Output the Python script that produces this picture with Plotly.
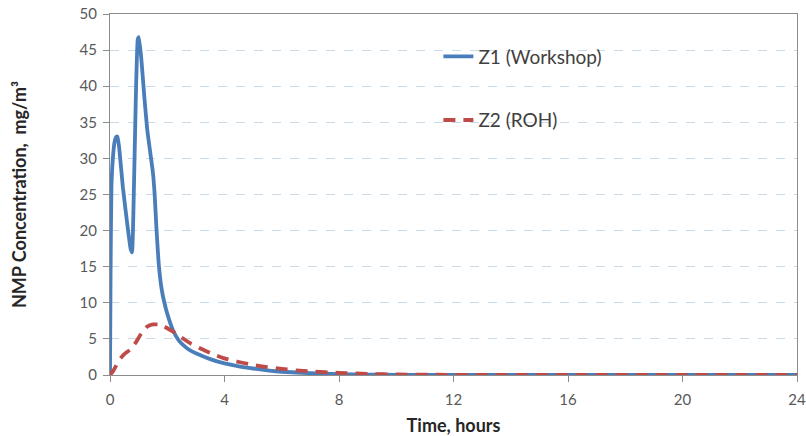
import plotly.graph_objects as go

# Z1 (Workshop)
t_z1 = [0, 0.02, 0.05, 0.1, 0.16, 0.22, 0.26, 0.32, 0.45, 0.6, 0.72, 0.77, 0.82, 0.9, 0.97, 1.01, 1.1, 1.2, 1.3,
        1.4, 1.5, 1.56, 1.62, 1.7, 1.8, 1.9, 2.0, 2.2, 2.4, 2.6, 2.8, 3.0, 3.5, 4, 4.5, 5, 5.5, 6, 7, 8,
        9, 10, 12, 16, 20, 24]
v_z1 = [0, 14, 26, 30, 32.3, 33, 33, 31.5, 26, 21, 17.5, 17, 23, 38, 46.5, 46.8, 43.5, 38.5, 34,
        31, 28, 25, 20.5, 15.5, 12, 10, 8.5, 6.2, 4.8, 4.0, 3.4, 3.0, 2.2, 1.6, 1.2, 0.9, 0.65, 0.45, 0.25, 0.12,
        0.06, 0.03, 0.01, 0, 0, 0]

# Z2 (ROH)
t_z2 = [0, 0.1, 0.2, 0.3, 0.5, 0.7, 0.9, 1.1, 1.3, 1.5, 1.7, 1.9, 2.2, 2.5, 2.8, 3.2, 3.6, 4, 4.5, 5,
        5.5, 6, 6.5, 7, 8, 9, 10, 12, 16, 20, 24]
v_z2 = [0, 0.5, 1.2, 2.0, 2.9, 3.5, 4.5, 5.8, 6.7, 7.0, 7.0, 6.7, 6.0, 5.2, 4.4, 3.6, 2.9, 2.3, 1.8, 1.4,
        1.1, 0.85, 0.65, 0.5, 0.3, 0.15, 0.08, 0.02, 0, 0, 0]

x_ticks = [0, 4, 8, 12, 16, 20, 24]
y_ticks = [0, 5, 10, 15, 20, 25, 30, 35, 40, 45, 50]

FONT = "Lato, 'Open Sans', sans-serif"

fig = go.Figure()
fig.add_trace(go.Scatter(x=t_z1, y=v_z1, mode="lines", name="Z1 (Workshop)", legendgroup="a",
                         line=dict(color="#4a7ebb", width=3.8, shape="spline", smoothing=0.4)))
fig.add_trace(go.Scatter(x=t_z2, y=v_z2, mode="lines", name="Z2 (ROH)", legendgroup="b",
                         line=dict(color="#be4b48", width=3.8, dash="12px,8px", shape="spline", smoothing=0.5)))

axis_common = dict(showline=True, linecolor="#8c8c8c", linewidth=1, mirror=True, ticks="outside",
                   ticklen=6, tickcolor="#8c8c8c", zeroline=False, ticklabeloverflow="allow",
                   automargin=False,
                   tickfont=dict(family=FONT, size=15, color="#595959"))

fig.update_layout(
    width=806, height=436,
    margin=dict(l=110, r=9, t=14, b=61),
    paper_bgcolor="white", plot_bgcolor="white",
    font=dict(family=FONT, color="#404040"),
    xaxis=dict(range=[0, 24], tickvals=x_ticks, showgrid=False, ticklabelstandoff=5,
               title=dict(text="<b>Time, hours</b>", font=dict(family=FONT, size=18, color="#262626"), standoff=14),
               **axis_common),
    yaxis=dict(range=[0, 50], tickvals=y_ticks, showgrid=True, gridcolor="#c9dbe9", griddash="dash",
               ticklabelstandoff=3,
               title=dict(text="<b>NMP Concentration,  mg/m³</b>", font=dict(family=FONT, size=18, color="#262626"), standoff=48),
               **axis_common),
    legend=dict(x=0.478, y=0.935, xanchor="left", yanchor="top", bgcolor="rgba(0,0,0,0)",
                font=dict(family=FONT, size=19, color="#404040"), tracegroupgap=36,
                traceorder="grouped"),
    showlegend=True,
)

fig.write_html("out.html", config={"displayModeBar": False},
               post_script="document.body.style.margin='0';document.body.style.overflow='hidden';")
